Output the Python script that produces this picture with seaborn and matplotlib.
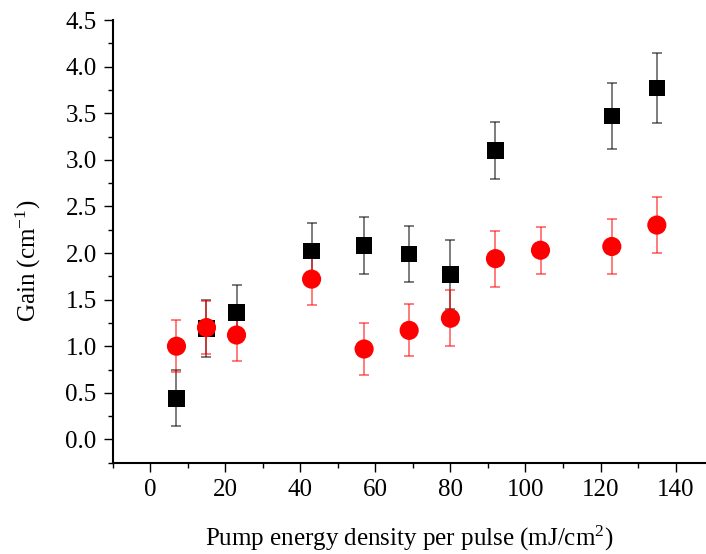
import numpy as np
import pandas as pd
import matplotlib
matplotlib.use("Agg")
import matplotlib.pyplot as plt
import seaborn as sns
from matplotlib.ticker import MultipleLocator

# ---- data ----
black_x = [7, 15, 23, 43, 57, 69, 80, 92, 123, 135]
black_y = [0.44, 1.19, 1.36, 2.02, 2.08, 1.99, 1.77, 3.10, 3.47, 3.77]
black_err = [0.30, 0.31, 0.30, 0.30, 0.31, 0.30, 0.37, 0.31, 0.35, 0.38]

red_x = [7, 15, 23, 43, 57, 69, 80, 92, 104, 123, 135]
red_y = [1.00, 1.20, 1.12, 1.72, 0.97, 1.17, 1.30, 1.94, 2.03, 2.07, 2.30]
red_err = [0.28, 0.28, 0.28, 0.28, 0.28, 0.28, 0.30, 0.30, 0.25, 0.30, 0.30]

x_ticks = [0, 20, 40, 60, 80, 100, 120, 140]
y_ticks = [0.0, 0.5, 1.0, 1.5, 2.0, 2.5, 3.0, 3.5, 4.0, 4.5]

df = pd.concat([
    pd.DataFrame({"x": black_x, "y": black_y, "err": black_err, "series": "A"}),
    pd.DataFrame({"x": red_x, "y": red_y, "err": red_err, "series": "B"}),
], ignore_index=True)

sns.set_theme(style="ticks")
plt.rcParams["font.family"] = ["Liberation Serif", "DejaVu Serif"]
plt.rcParams["mathtext.fontset"] = "custom"
plt.rcParams["mathtext.rm"] = "Liberation Serif"
plt.rcParams["mathtext.it"] = "Liberation Serif:italic"

fig = plt.figure(figsize=(7.06, 5.54), dpi=100)
ax = fig.add_axes([0.1596, 0.1648, 0.8404, 0.799])

colors = {"A": "black", "B": "red"}
markers = {"A": "s", "B": "o"}
sizes = {"A": 140, "B": 190}

for ser in ["A", "B"]:
    sub = df[df["series"] == ser]
    ax.errorbar(sub["x"], sub["y"], yerr=sub["err"], fmt="none",
                ecolor=colors[ser], alpha=0.6, elinewidth=1.2, capsize=3.5,
                capthick=1.2, zorder=2)
    sns.scatterplot(data=sub, x="x", y="y", marker=markers[ser],
                    color=colors[ser], s=sizes[ser], edgecolor="none",
                    linewidth=0, ax=ax, zorder=3, legend=False)

ax.set_xlim(-10, 148.1)
ax.set_ylim(-0.25, 4.5)
ax.set_xticks(x_ticks)
ax.set_yticks(y_ticks)
ax.set_xticklabels([str(v) for v in x_ticks])
ax.set_yticklabels([f"{v:.1f}" for v in y_ticks])
ax.xaxis.set_minor_locator(MultipleLocator(10))
ax.yaxis.set_minor_locator(MultipleLocator(0.25))

ax.tick_params(which="major", direction="out", length=6.5, width=1.0,
               labelsize=18, pad=5, color="black", labelcolor="black")
ax.tick_params(which="minor", direction="out", length=3.6, width=1.0,
               color="black")

sns.despine(ax=ax)
for sp in ["left", "bottom"]:
    ax.spines[sp].set_linewidth(1.5)
    ax.spines[sp].set_color("black")

ax.set_xlabel("Pump energy density per pulse (mJ/cm$^{2}$)", fontsize=18,
              labelpad=17, color="black")
ax.set_ylabel("Gain (cm$^{-1}$)", fontsize=18, color="black")
ax.yaxis.set_label_coords(-0.117, 0.455)

fig.savefig("out.png", dpi=100)
